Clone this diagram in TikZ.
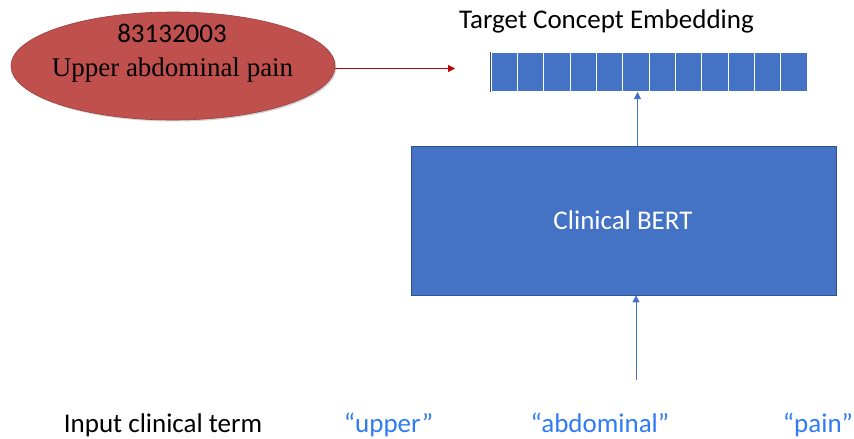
\documentclass[tikz,border=0pt]{standalone}
\usepackage{fontspec}
\setmainfont{Carlito}
\newfontfamily\timesfont{Liberation Serif}
\usetikzlibrary{arrows.meta,shadows,shapes.geometric}
\definecolor{bertblue}{HTML}{4472C4}
\definecolor{bertedge}{HTML}{2F528F}
\definecolor{conceptred}{HTML}{C0504D}
\definecolor{conceptedge}{HTML}{9A3F3D}
\definecolor{tokenblue}{HTML}{2F7BF5}
\tikzset{
  x=1pt, y=-1pt,
  lbl/.style={font=\fontsize{27}{29}\selectfont, inner sep=0pt, anchor=base},
  token/.style={lbl, text=tokenblue},
  cell/.style={draw=white, line width=1.1pt, fill=bertblue, minimum width=26.35pt, minimum height=40pt, inner sep=0pt, outer sep=0pt},
  bluearrow/.style={draw=bertblue, line width=0.8pt, -{Triangle[length=7pt,width=7pt]}},
  redarrow/.style={draw=red!75!black, line width=0.8pt, -{Triangle[length=7pt,width=7pt]}},
}
\begin{document}
\begin{tikzpicture}
\useasboundingbox (0,0) rectangle (854,439);
% concept ellipse
\node (concept) [ellipse, minimum width=324pt, minimum height=108pt, fill=conceptred, draw=conceptedge, line width=0.6pt,
  drop shadow={shadow xshift=1.5pt, shadow yshift=-1.5pt, opacity=0.35}] at (173,66) {};
\node (code) [lbl] at (172,42.7) {83132003};
\node (name) [lbl, font=\timesfont\fontsize{27}{29}\selectfont] at (172.5,76) {Upper abdominal pain};
% embedding vector
\node (title) [lbl] at (606.5,28.3) {Target Concept Embedding};
\foreach \i in {0,...,11} {
  \node (c\i) [cell] at ({491+26.35*(\i+0.5)},72) {};
}
\draw[bertblue!70!black, line width=0.5pt] (490.3,52) -- (490.3,92);
\coordinate (embin) at (637.5,92);
\coordinate (redtip) at (455,68.5);
\draw[redarrow] (concept.east |- redtip) -- (redtip);
% encoder
\node (bert) [draw=bertedge, line width=0.7pt, fill=bertblue, minimum width=425pt, minimum height=149pt, inner sep=0pt] at (623.5,220.5) {};
\node (berttext) [lbl, text=white] at (623,229) {Clinical BERT};
\draw[bluearrow] (bert.north -| embin) -- (embin);
% input tokens
\coordinate (tokfoot) at (636,380);
\draw[bluearrow] (tokfoot) -- (bert.south -| tokfoot);
\node (inlabel) [lbl] at (163,432) {Input clinical term};
\node (tok1) [token] at (388.5,432) {“upper”};
\node (tok2) [token] at (600,432) {“abdominal”};
\node (tok3) [token] at (818,432) {“pain”};
\end{tikzpicture}
\end{document}
